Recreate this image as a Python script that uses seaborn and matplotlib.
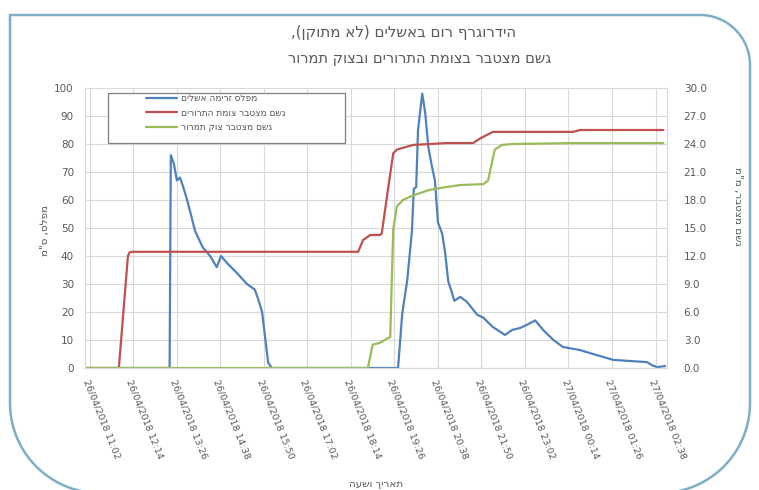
import matplotlib
matplotlib.use("Agg")
import matplotlib.pyplot as plt
import numpy as np
import pandas as pd
import seaborn as sns
from matplotlib.lines import Line2D
from matplotlib.patches import Rectangle
from matplotlib.transforms import Affine2D

# ---------------- data ----------------
flow_times = [
    "2018-04-26 10:54", "2018-04-26 13:14", "2018-04-26 13:16", "2018-04-26 13:21",
    "2018-04-26 13:26", "2018-04-26 13:31", "2018-04-26 13:36", "2018-04-26 13:43",
    "2018-04-26 13:49", "2018-04-26 13:56", "2018-04-26 14:09", "2018-04-26 14:21",
    "2018-04-26 14:32", "2018-04-26 14:39", "2018-04-26 14:49", "2018-04-26 15:05",
    "2018-04-26 15:22", "2018-04-26 15:35", "2018-04-26 15:40", "2018-04-26 15:47",
    "2018-04-26 15:52", "2018-04-26 15:57", "2018-04-26 16:03", "2018-04-26 19:32",
    "2018-04-26 19:39", "2018-04-26 19:47", "2018-04-26 19:55", "2018-04-26 19:58",
    "2018-04-26 20:02", "2018-04-26 20:05", "2018-04-26 20:12", "2018-04-26 20:17",
    "2018-04-26 20:22", "2018-04-26 20:28", "2018-04-26 20:33", "2018-04-26 20:38",
    "2018-04-26 20:45", "2018-04-26 20:50", "2018-04-26 20:55", "2018-04-26 21:01",
    "2018-04-26 21:05", "2018-04-26 21:15", "2018-04-26 21:26", "2018-04-26 21:43",
    "2018-04-26 21:53", "2018-04-26 22:09", "2018-04-26 22:29", "2018-04-26 22:41",
    "2018-04-26 22:54", "2018-04-26 23:05", "2018-04-26 23:19", "2018-04-26 23:32",
    "2018-04-26 23:49", "2018-04-27 00:05", "2018-04-27 00:33", "2018-04-27 01:01",
    "2018-04-27 01:28", "2018-04-27 01:56", "2018-04-27 02:24", "2018-04-27 02:32",
    "2018-04-27 02:41", "2018-04-27 02:54",
]
flow_level = [
    0, 0, 76, 73, 67, 68, 65, 60, 55, 49, 43, 40, 36, 40, 37.5, 34, 30, 28, 25, 20,
    11, 2, 0, 0, 19.6, 31, 49, 64, 64.6, 85, 98, 91, 79, 72, 67, 52, 48, 41, 31, 27,
    24, 25.4, 23.6, 19, 18, 14.6, 11.8, 13.6, 14.3, 15.4, 17, 13.6, 10, 7.5, 6.4, 4.6,
    2.9, 2.5, 2.1, 1, 0.3, 0.7,
]

rain1_times = [
    "2018-04-26 10:54", "2018-04-26 11:50", "2018-04-26 12:05", "2018-04-26 12:08",
    "2018-04-26 12:13", "2018-04-26 18:26", "2018-04-26 18:34", "2018-04-26 18:46",
    "2018-04-26 19:02", "2018-04-26 19:05", "2018-04-26 19:15", "2018-04-26 19:24",
    "2018-04-26 19:30", "2018-04-26 19:57", "2018-04-26 20:53", "2018-04-26 21:36",
    "2018-04-26 21:48", "2018-04-26 22:09", "2018-04-27 00:22", "2018-04-27 00:33",
    "2018-04-27 02:51",
]
rain1_mm = [0, 0, 12.0, 12.4, 12.45, 12.45, 13.7, 14.25, 14.25, 14.4, 19.0, 23.0,
            23.4, 23.9, 24.1, 24.1, 24.6, 25.3, 25.3, 25.5, 25.5]

rain2_times = [
    "2018-04-26 10:54", "2018-04-26 18:42", "2018-04-26 18:50", "2018-04-26 19:02",
    "2018-04-26 19:15", "2018-04-26 19:19", "2018-04-26 19:24", "2018-04-26 19:30",
    "2018-04-26 19:40", "2018-04-26 19:57", "2018-04-26 20:25", "2018-04-26 20:53",
    "2018-04-26 21:15", "2018-04-26 21:53", "2018-04-26 22:01", "2018-04-26 22:12",
    "2018-04-26 22:24", "2018-04-26 22:42", "2018-04-27 00:22", "2018-04-27 02:51",
]
rain2_mm = [0, 0, 2.5, 2.7, 3.2, 3.3, 14.8, 17.3, 18, 18.5, 19.1, 19.4, 19.6, 19.7,
            20.1, 23.4, 23.9, 24.0, 24.1, 24.1]

series_names = ["מפלס זרימה אשלים", "גשם מצטבר צומת התרורים", "גשם מצטבר צוק תמרור"]
title_lines = ["הידרוגרף רום באשלים (לא מתוקן),", "גשם מצטבר בצומת התרורים ובצוק תמרור"]
left_label = 'מפלס, ס"מ'
right_label = 'גשם מצטבר, מ"מ'
x_label = "תאריך ושעה"
left_ticks = list(range(0, 101, 10))
right_ticks = [0, 3, 6, 9, 12, 15, 18, 21, 24, 27, 30]


def rtl(s):
    """Lay out a right-to-left string in visual (left-to-right) order."""
    swap = {"(": ")", ")": "("}
    return "".join(swap.get(c, c) for c in reversed(s))


# ---------------- style ----------------
BLUE = "#4F81BD"
RED = "#C0504D"
GREEN = "#9BBB59"
TXT = "#595959"
GRID = "#D9D9D9"
FRAME = "#7FAFC6"

sns.set_theme(style="white")
plt.rcParams["font.family"] = ["DejaVu Sans"]

W, H = 759, 490
fig = plt.figure(figsize=(W / 100, H / 100), dpi=100)
fig.patch.set_facecolor("white")


def fx(x):
    return x / W


def fy(y):
    return 1 - y / H


ax = fig.add_axes([fx(85), fy(368), (667 - 85) / W, (368 - 88) / H])
ax2 = ax.twinx()

flow = pd.DataFrame({"time": pd.to_datetime(flow_times), "level": flow_level})
r1 = pd.DataFrame({"time": pd.to_datetime(rain1_times), "mm": rain1_mm})
r2 = pd.DataFrame({"time": pd.to_datetime(rain2_times), "mm": rain2_mm})

sns.lineplot(data=flow, x="time", y="level", ax=ax, color=BLUE, lw=1.6,
             sort=False, estimator=None, legend=False)
sns.lineplot(data=r1, x="time", y="mm", ax=ax2, color=RED, lw=1.6,
             sort=False, estimator=None, legend=False)
sns.lineplot(data=r2, x="time", y="mm", ax=ax2, color=GREEN, lw=1.6,
             sort=False, estimator=None, legend=False)

x0 = pd.Timestamp("2018-04-26 10:54")
x1 = pd.Timestamp("2018-04-27 02:57")
ax.set_xlim(x0, x1)
ax.set_ylim(0, 100)
ax2.set_ylim(0, 30)

xticks = pd.date_range("2018-04-26 11:02", periods=14, freq="72min")
ax.set_xticks(xticks)
ax.set_xticklabels([t.strftime("%d/%m/%Y %H:%M") for t in xticks],
                   rotation=-68, ha="left", va="top", rotation_mode="anchor",
                   fontsize=6.8, color=TXT)
ax.set_yticks(left_ticks)
ax.set_yticklabels([str(v) for v in left_ticks], fontsize=7.5, color=TXT)
ax2.set_yticks(right_ticks)
ax2.set_yticklabels([f"{v:.1f}" for v in right_ticks], fontsize=7.5, color=TXT)

ax.set_xlabel("")
ax.set_ylabel("")
ax2.set_ylabel("")

ax.grid(True, color=GRID, lw=0.8)
ax2.grid(False)
ax.tick_params(axis="x", length=4, width=0.8, color="#BFBFBF", pad=3)
ax.tick_params(axis="y", length=0, pad=8)
ax2.tick_params(axis="y", length=0, pad=12)
for a in (ax, ax2):
    a.spines["top"].set_visible(False)
    for side in ("left", "right", "bottom"):
        a.spines[side].set_color(GRID)
        a.spines[side].set_linewidth(0.8)
ax2.patch.set_visible(False)

# titles and axis labels
fig.text(fx(404), fy(33), rtl(title_lines[0]), ha="center", va="center",
         fontsize=10.8, color=TXT)
fig.text(fx(420), fy(58), rtl(title_lines[1]), ha="center", va="center",
         fontsize=10.5, color=TXT)
fig.text(fx(45), fy(230), rtl(left_label), rotation=90, ha="center", va="center",
         fontsize=7.5, color=TXT)
fig.text(fx(738), fy(206), rtl(right_label), rotation=-90, ha="center", va="center",
         fontsize=7.5, color=TXT)
fig.text(fx(376), fy(484), rtl(x_label), ha="center", va="center",
         fontsize=7.5, color=TXT)

# legend box and entries
fig.add_artist(Rectangle((fx(108), fy(143)), (345 - 108) / W, (143 - 93) / H,
                         transform=fig.transFigure, facecolor="white",
                         edgecolor="#7F7F7F", lw=0.9, zorder=3))
handles = [Line2D([], [], color=c, lw=1.6) for c in (BLUE, RED, GREEN)]
leg = fig.legend(handles, [rtl(s) for s in series_names], loc="upper left",
                 bbox_to_anchor=(fx(146), fy(94)), frameon=False, fontsize=6.5,
                 handlelength=3.4, handletextpad=0.5, labelspacing=0.62,
                 borderaxespad=0, borderpad=0)
for t in leg.get_texts():
    t.set_color(TXT)
leg.set_zorder(4)


# rounded outer frame, laid out in pixel units (origin top-left, y down)
def corner(cx, cy, r, a0, a1, n=40):
    a = np.radians(np.linspace(a0, a1, n))
    return cx + r * np.cos(a), cy + r * np.sin(a)


L, T, R, B = 10, 15, 750, 493
rtr, rbr, rbl = 50, 90, 90
xs, ys = [L], [T]
cx, cy = corner(R - rtr, T + rtr, rtr, -90, 0)
xs += list(cx); ys += list(cy)
cx, cy = corner(R - rbr, B - rbr, rbr, 0, 90)
xs += list(cx); ys += list(cy)
cx, cy = corner(L + rbl, B - rbl, rbl, 90, 180)
xs += list(cx); ys += list(cy)
xs.append(L); ys.append(T)
px_to_fig = Affine2D().scale(1 / W, -1 / H).translate(0, 1) + fig.transFigure
fig.add_artist(Line2D(xs, ys, transform=px_to_fig, color=FRAME, lw=1.8,
                      solid_joinstyle="round", zorder=5))

fig.savefig("out.png", dpi=100, facecolor="white")
